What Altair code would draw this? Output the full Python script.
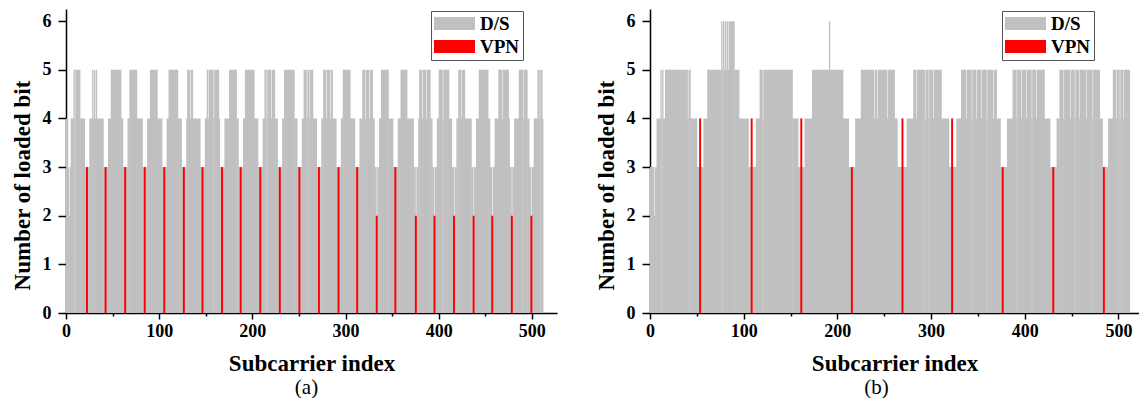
import altair as alt
import pandas as pd

N_SUB = 512
SERIF = "Liberation Serif"

# ---------- Panel (a) ----------
# D/S bit loading as run-length pairs: [first subcarrier of run, bits]
DS_A_RUNS = [
    [0, 4], [2, 3], [3, 2], [4, 3], [5, 4], [8, 5], [9, 4], [10, 5], [15, 4], [20, 3],
    [22, 0], [23, 3], [25, 4], [28, 5], [29, 4], [30, 5], [31, 4], [32, 5], [33, 4], [40, 3],
    [42, 0], [43, 3], [45, 4], [48, 5], [59, 4], [61, 3],
    [63, 0], [64, 3], [66, 4], [68, 5], [76, 4], [82, 3],
    [84, 0], [85, 3], [87, 4], [90, 5], [98, 4], [103, 3],
    [105, 0], [106, 3], [108, 4], [110, 5], [120, 4], [124, 3],
    [126, 0], [127, 3], [129, 4], [130, 5], [133, 4], [134, 5], [136, 4], [144, 3],
    [146, 0], [147, 3], [149, 4], [151, 5], [152, 4], [153, 5], [158, 4], [159, 5], [164, 4], [165, 3],
    [167, 0], [168, 3], [170, 4], [175, 5], [183, 4], [185, 3],
    [187, 0], [188, 3], [190, 4], [192, 5], [202, 4], [206, 3],
    [208, 0], [209, 3], [211, 4], [213, 5], [215, 4], [216, 5], [220, 4], [221, 5], [224, 4], [227, 3],
    [229, 0], [230, 3], [232, 4], [234, 5], [245, 4], [248, 3],
    [250, 0], [251, 3], [253, 4], [255, 5], [258, 4], [259, 5], [261, 4], [262, 5], [265, 4], [269, 3],
    [271, 0], [272, 3], [274, 4], [276, 5], [279, 4], [280, 5], [283, 4], [284, 5], [286, 4], [290, 3],
    [292, 0], [293, 3], [295, 4], [297, 5], [305, 4], [310, 3],
    [312, 0], [313, 3], [315, 4], [318, 5], [321, 4], [322, 5], [325, 4], [326, 5], [329, 4], [331, 3],
    [333, 0], [334, 3], [336, 4], [338, 5], [346, 4], [351, 3],
    [353, 0], [354, 3], [356, 4], [359, 5], [366, 4], [373, 3],
    [375, 0], [376, 3], [378, 4], [379, 5], [382, 4], [383, 5], [386, 4], [387, 5], [391, 4], [393, 3],
    [395, 0], [396, 3], [398, 4], [400, 5], [404, 4], [405, 5], [411, 4], [414, 3],
    [416, 0], [417, 3], [419, 4], [421, 5], [424, 4], [425, 5], [428, 4], [435, 3],
    [437, 0], [438, 3], [440, 4], [443, 5], [453, 4], [455, 3],
    [457, 0], [458, 3], [460, 4], [464, 5], [468, 4], [469, 5], [475, 4], [476, 3],
    [478, 0], [479, 3], [481, 4], [486, 5], [490, 4], [491, 5], [495, 4], [497, 3],
    [499, 0], [500, 3], [502, 4], [506, 5], [508, 4], [509, 5], [511, 4],
]
VPN_A_POS = [22, 42, 63, 84, 105, 126, 146, 167, 187, 208, 229, 250,
             271, 292, 312, 333, 353, 375, 395, 416, 437, 457, 478, 499]
VPN_A_BITS = [3, 3, 3, 3, 3, 3, 3, 3, 3, 3, 3, 3,
              3, 3, 3, 2, 3, 2, 2, 2, 2, 2, 2, 2]

# ---------- Panel (b) ----------
DS_B_RUNS = [
    [0, 3], [4, 2], [5, 3], [7, 4], [11, 5], [12, 4], [13, 5], [14, 4], [16, 5], [40, 4],
    [41, 5], [43, 4], [50, 3],
    [53, 0], [54, 3], [57, 4], [61, 5], [76, 6], [77, 5], [78, 6], [79, 5], [80, 6], [81, 5],
    [82, 6], [83, 5], [84, 6], [90, 5], [95, 4], [105, 3],
    [108, 0], [109, 3], [113, 4], [117, 5], [120, 4], [121, 5], [152, 4], [158, 3],
    [161, 0], [162, 3], [165, 4], [173, 5], [191, 6], [192, 5], [206, 4], [212, 3],
    [215, 0], [216, 3], [219, 4], [225, 5], [239, 4], [240, 5], [242, 4], [243, 5], [253, 4],
    [254, 5], [261, 4], [264, 3],
    [269, 0], [270, 3], [274, 4], [281, 5], [284, 4], [285, 5], [293, 4], [294, 5], [297, 4],
    [298, 5], [302, 4], [303, 5], [311, 4], [319, 3],
    [322, 0], [323, 3], [327, 4], [332, 5], [337, 4], [338, 5], [343, 4], [344, 5], [348, 4],
    [349, 5], [353, 4], [354, 5], [359, 4], [360, 5], [366, 4], [367, 5], [370, 4], [374, 3],
    [376, 0], [377, 3], [381, 4], [387, 5], [391, 4], [392, 5], [396, 4], [397, 5], [401, 4],
    [402, 5], [407, 4], [408, 5], [412, 4], [413, 5], [421, 4], [427, 3],
    [430, 0], [431, 3], [434, 4], [437, 5], [441, 4], [442, 5], [448, 4], [449, 5], [453, 4],
    [454, 5], [458, 4], [459, 5], [465, 4], [466, 5], [472, 4], [473, 5], [480, 4], [483, 3],
    [484, 0], [485, 3], [489, 4], [494, 5], [497, 4], [498, 5], [501, 4], [502, 5], [505, 4],
    [506, 5],
]
VPN_B_POS = [53, 108, 161, 215, 269, 322, 376, 430, 484]
VPN_B_BITS = [4, 4, 4, 3, 4, 4, 3, 3, 3]

X_TICKS = [0, 50, 100, 150, 200, 250, 300, 350, 400, 450, 500]
Y_TICKS = [0, 0.5, 1, 1.5, 2, 2.5, 3, 3.5, 4, 4.5, 5, 5.5, 6]
SERIES = ["D/S", "VPN"]
COLORS = ["#c0c0c0", "#ff0000"]


def runs_df(runs):
    starts = [r[0] for r in runs]
    ends = starts[1:] + [N_SUB]
    df = pd.DataFrame({"start": starts, "end": ends,
                       "bits": [r[1] for r in runs], "series": "D/S"})
    return df[df["bits"] > 0]


def panel(runs, pos, bits, xmax, width, lx, caption, cdx):
    ds = runs_df(runs)
    vpn = pd.DataFrame({"pos": pos, "bits": bits, "series": "VPN"})
    xs = alt.Scale(domain=[0, xmax], nice=False, zero=False)
    ys = alt.Scale(domain=[0, 6.25], nice=False)
    xaxis = alt.Axis(values=X_TICKS, title="Subcarrier index", format="d",
                     labelExpr="datum.value % 100 === 0 ? datum.label : ''",
                     tickSize={"condition": {"test": "datum.value % 100 === 0", "value": 6}, "value": 3},
                     labelOverlap=False, labelFlush=False, labelPadding=3, titlePadding=12)
    yaxis = alt.Axis(values=Y_TICKS, title="Number of loaded bit", format="d",
                     labelExpr="datum.value % 1 === 0 ? datum.label : ''",
                     tickSize={"condition": {"test": "datum.value % 1 === 0", "value": 8}, "value": 4},
                     labelOverlap=False, labelFlush=False, labelPadding=7, titlePadding=8,
                     titleY=176)
    color = alt.Color("series:N", scale=alt.Scale(domain=SERIES, range=COLORS),
                      legend=alt.Legend(title=None, orient="none", legendX=lx, legendY=2,
                                        symbolType="M-3,-0.95L3,-0.95L3,0.95L-3,0.95Z",
                                        symbolSize=187, symbolOffset=11, symbolStrokeWidth=0,
                                        symbolOpacity=1,
                                        labelFont=SERIF, labelFontSize=19, labelFontWeight="bold",
                                        labelColor="black", labelOffset=16,
                                        strokeColor="#555555", fillColor="white",
                                        padding=3, rowPadding=3))
    gray = alt.Chart(ds).transform_calculate(
        xe="datum.end + 0.45"
    ).mark_rect().encode(
        x=alt.X("start:Q", scale=xs, axis=xaxis), x2="xe:Q",
        y=alt.Y("bits:Q", scale=ys, axis=yaxis), y2=alt.datum(0),
        color=color)
    red = alt.Chart(vpn).transform_calculate(
        x0="datum.pos - 0.55", x1="datum.pos + 1.55"
    ).mark_rect().encode(
        x=alt.X("x0:Q", scale=xs, axis=xaxis), x2="x1:Q",
        y=alt.Y("bits:Q", scale=ys, axis=yaxis), y2=alt.datum(0),
        color=color)
    return alt.layer(gray, red).properties(
        width=width, height=304,
        title=alt.TitleParams(caption, orient="bottom", dx=cdx, offset=2,
                              font=SERIF, fontSize=21, fontWeight="normal", color="black"))


pa = panel(DS_A_RUNS, VPN_A_POS, VPN_A_BITS, 527, 491, 365, "(a)", -5)
pb = panel(DS_B_RUNS, VPN_B_POS, VPN_B_BITS, 522, 489, 352, "(b)", -18)

chart = alt.hconcat(pa, pb, spacing=38).resolve_scale(color="independent").resolve_legend(
    color="independent"
).properties(
    padding={"left": 11, "top": 9, "right": 0, "bottom": 0}
).configure_view(stroke=None).configure_axis(
    domainColor="black", domainWidth=1.5, tickColor="black", tickWidth=1.5,
    labelFont=SERIF, labelFontWeight="bold", labelFontSize=18, labelColor="black",
    titleFont=SERIF, titleFontWeight="bold", titleFontSize=23, titleColor="black", grid=False
)

chart.save("out.html", embed_options={"renderer": "svg", "actions": False})
